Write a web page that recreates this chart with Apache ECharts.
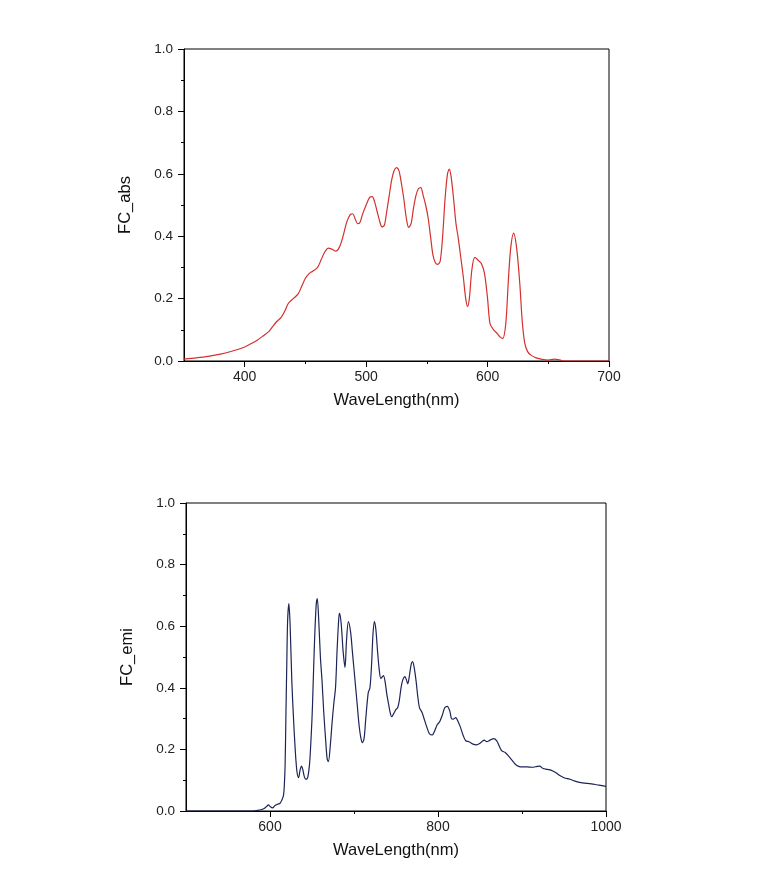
<!DOCTYPE html>
<html>
<head>
<meta charset="utf-8">
<script src="https://cdn.jsdelivr.net/npm/echarts@6/dist/echarts.min.js"></script>
<style>
html, body { margin: 0; padding: 0; background: #fff; }
#container { width: 762px; height: 879px; }
</style>
</head>
<body>
<div id="container"></div>
<script>
// absorption spectrum (top)
var absX = [350, 360, 370, 380, 390, 400, 405, 410, 415, 420, 423, 426, 430, 433, 436, 440, 444, 447, 450, 453, 456, 460, 463, 466, 469, 472, 475, 478, 481, 484, 487, 489, 491, 493, 495, 497, 500, 503, 505, 507, 509, 511, 513, 515, 517, 519, 521, 523, 525, 527, 529, 531, 533, 535, 537, 539, 541, 543, 545, 547, 549, 551, 553, 555, 557, 559, 561, 563, 565, 567, 568.5, 570, 572, 574, 576, 578, 580, 582, 583.5, 585, 587, 589.5, 593, 595, 597.5, 600, 602, 605, 608, 610, 612.5, 615, 617, 619, 621.5, 624, 626.5, 628.5, 630.5, 633, 636, 640, 645, 650, 655, 660, 663, 700];
var absY = [0.006, 0.01, 0.015, 0.022, 0.032, 0.045, 0.055, 0.066, 0.08, 0.095, 0.11, 0.125, 0.14, 0.16, 0.185, 0.2, 0.215, 0.24, 0.265, 0.28, 0.288, 0.3, 0.325, 0.35, 0.362, 0.358, 0.352, 0.365, 0.4, 0.445, 0.47, 0.472, 0.455, 0.44, 0.445, 0.47, 0.5, 0.525, 0.527, 0.51, 0.48, 0.45, 0.43, 0.435, 0.48, 0.53, 0.58, 0.61, 0.62, 0.61, 0.57, 0.52, 0.46, 0.428, 0.44, 0.49, 0.53, 0.552, 0.556, 0.53, 0.5, 0.46, 0.4, 0.34, 0.315, 0.31, 0.32, 0.4, 0.52, 0.6, 0.615, 0.59, 0.52, 0.44, 0.39, 0.33, 0.27, 0.2, 0.175, 0.2, 0.29, 0.332, 0.32, 0.312, 0.28, 0.2, 0.12, 0.1, 0.088, 0.078, 0.072, 0.12, 0.25, 0.36, 0.41, 0.36, 0.25, 0.13, 0.06, 0.03, 0.018, 0.01, 0.005, 0.003, 0.006, 0.003, 0, 0];

// emission spectrum (bottom)
var emiX = [500, 580, 585, 590, 593, 596, 598, 600, 603, 606, 609, 612, 614, 616, 617, 618, 619, 620, 621, 622.5, 624, 626, 628, 630, 632, 634, 636, 637.5, 639, 641, 643, 645, 647, 648, 650, 651, 653, 655, 656.3, 658, 660, 662, 664, 666, 668, 669.5, 672, 674, 676, 678, 680, 682, 683, 685, 687, 689.3, 691, 693.3, 696, 698, 700, 702, 704, 706, 708, 710, 712, 714, 717, 719, 721, 722.5, 724.2, 726, 728, 730, 732, 735, 737, 739, 741, 743, 744.8, 748, 750, 752, 754, 756, 758, 760.7, 762.5, 764, 766, 768, 769.8, 772, 774, 776, 778, 781, 784, 787, 790, 793.3, 796, 799, 802, 805, 808, 811, 814, 816, 818, 821, 824, 827, 830, 833, 837, 841, 846, 850, 855, 858, 862, 866, 870, 873, 876, 880, 884, 888, 892, 896, 900, 906, 912, 918, 921, 925, 930, 935, 940, 945, 950, 957, 963, 970, 978, 985, 992, 1000];
var emiY = [0, 0, 0.002, 0.005, 0.008, 0.015, 0.02, 0.015, 0.01, 0.018, 0.022, 0.025, 0.035, 0.05, 0.08, 0.15, 0.32, 0.48, 0.62, 0.673, 0.6, 0.42, 0.3, 0.2, 0.13, 0.108, 0.135, 0.146, 0.135, 0.11, 0.103, 0.11, 0.15, 0.19, 0.3, 0.38, 0.55, 0.67, 0.69, 0.62, 0.5, 0.42, 0.32, 0.24, 0.17, 0.16, 0.22, 0.29, 0.35, 0.4, 0.53, 0.63, 0.642, 0.6, 0.52, 0.466, 0.55, 0.615, 0.58, 0.52, 0.46, 0.4, 0.34, 0.28, 0.24, 0.222, 0.235, 0.3, 0.385, 0.4, 0.48, 0.57, 0.615, 0.59, 0.52, 0.46, 0.43, 0.44, 0.42, 0.38, 0.35, 0.32, 0.306, 0.32, 0.33, 0.335, 0.36, 0.4, 0.425, 0.436, 0.425, 0.413, 0.44, 0.475, 0.485, 0.46, 0.42, 0.37, 0.335, 0.32, 0.295, 0.27, 0.25, 0.247, 0.26, 0.28, 0.29, 0.31, 0.335, 0.34, 0.325, 0.3, 0.298, 0.303, 0.29, 0.27, 0.245, 0.228, 0.225, 0.218, 0.215, 0.22, 0.23, 0.225, 0.23, 0.235, 0.228, 0.21, 0.195, 0.19, 0.178, 0.165, 0.152, 0.145, 0.143, 0.143, 0.142, 0.145, 0.146, 0.138, 0.135, 0.132, 0.125, 0.115, 0.108, 0.103, 0.097, 0.092, 0.09, 0.087, 0.084, 0.08];

// tick positions
var absMajorTicks = [400, 500, 600, 700];
var absMinorTicks = [450, 550, 650];
var emiMajorTicks = [600, 800, 1000];
var emiMinorTicks = [700, 900];

var FONT = '"Liberation Sans", Arial, sans-serif';

function pairs(xs, ys) {
    return xs.map(function (x, i) { return [x, ys[i]]; });
}

function mainX(grid, min, max, ticks) {
    return {
        type: 'value', gridIndex: grid, min: min, max: max,
        name: 'WaveLength(nm)', nameLocation: 'middle', nameGap: 31,
        nameTextStyle: { fontFamily: FONT, fontSize: 16.5, color: '#111' },
        axisLine: { lineStyle: { color: '#000', width: 1 } },
        axisTick: { customValues: ticks, length: 6, lineStyle: { color: '#000' } },
        axisLabel: {
            customValues: ticks, fontFamily: FONT, fontSize: 14, color: '#222', margin: 9,
            formatter: function (v) { return String(v); }
        },
        splitLine: { show: false }
    };
}

function minorX(grid, min, max, ticks) {
    return {
        type: 'value', gridIndex: grid, min: min, max: max, position: 'bottom',
        axisLine: { show: false },
        axisTick: { customValues: ticks, length: 3, lineStyle: { color: '#000' } },
        axisLabel: { show: false },
        splitLine: { show: false }
    };
}

function yAxis(grid, name) {
    return {
        type: 'value', gridIndex: grid, min: 0, max: 1, interval: 0.2,
        name: name, nameLocation: 'middle', nameGap: 50,
        nameTextStyle: { fontFamily: FONT, fontSize: 16.5, color: '#111' },
        axisLine: { show: true, lineStyle: { color: '#000', width: 1 } },
        axisTick: { show: true, length: 6, lineStyle: { color: '#000' } },
        minorTick: { show: true, splitNumber: 2, length: 3, lineStyle: { color: '#000' } },
        axisLabel: {
            fontFamily: FONT, fontSize: 13.5, color: '#222', margin: 11,
            formatter: function (v) { return v.toFixed(1); }
        },
        splitLine: { show: false }
    };
}

var dom = document.getElementById('container');
var myChart = echarts.init(dom);
var option = {
    animation: false,
    backgroundColor: '#fff',
    grid: [
        { left: 184, top: 49, width: 425, height: 312, show: true, borderColor: '#000', borderWidth: 1 },
        { left: 186, top: 503, width: 420, height: 308, show: true, borderColor: '#000', borderWidth: 1 }
    ],
    xAxis: [
        mainX(0, 350, 700, absMajorTicks),
        minorX(0, 350, 700, absMinorTicks),
        mainX(1, 500, 1000, emiMajorTicks),
        minorX(1, 500, 1000, emiMinorTicks)
    ],
    yAxis: [
        yAxis(0, 'FC_abs'),
        yAxis(1, 'FC_emi')
    ],
    series: [
        {
            name: 'FC_abs', type: 'line', xAxisIndex: 0, yAxisIndex: 0,
            symbol: 'none', smooth: 0.3,
            lineStyle: { color: '#d4302e', width: 1.2 },
            data: pairs(absX, absY)
        },
        {
            name: 'FC_emi', type: 'line', xAxisIndex: 2, yAxisIndex: 1,
            symbol: 'none', smooth: 0.3,
            lineStyle: { color: '#1d2456', width: 1.2 },
            data: pairs(emiX, emiY)
        }
    ]
};
myChart.setOption(option, true);
</script>
</body>
</html>
